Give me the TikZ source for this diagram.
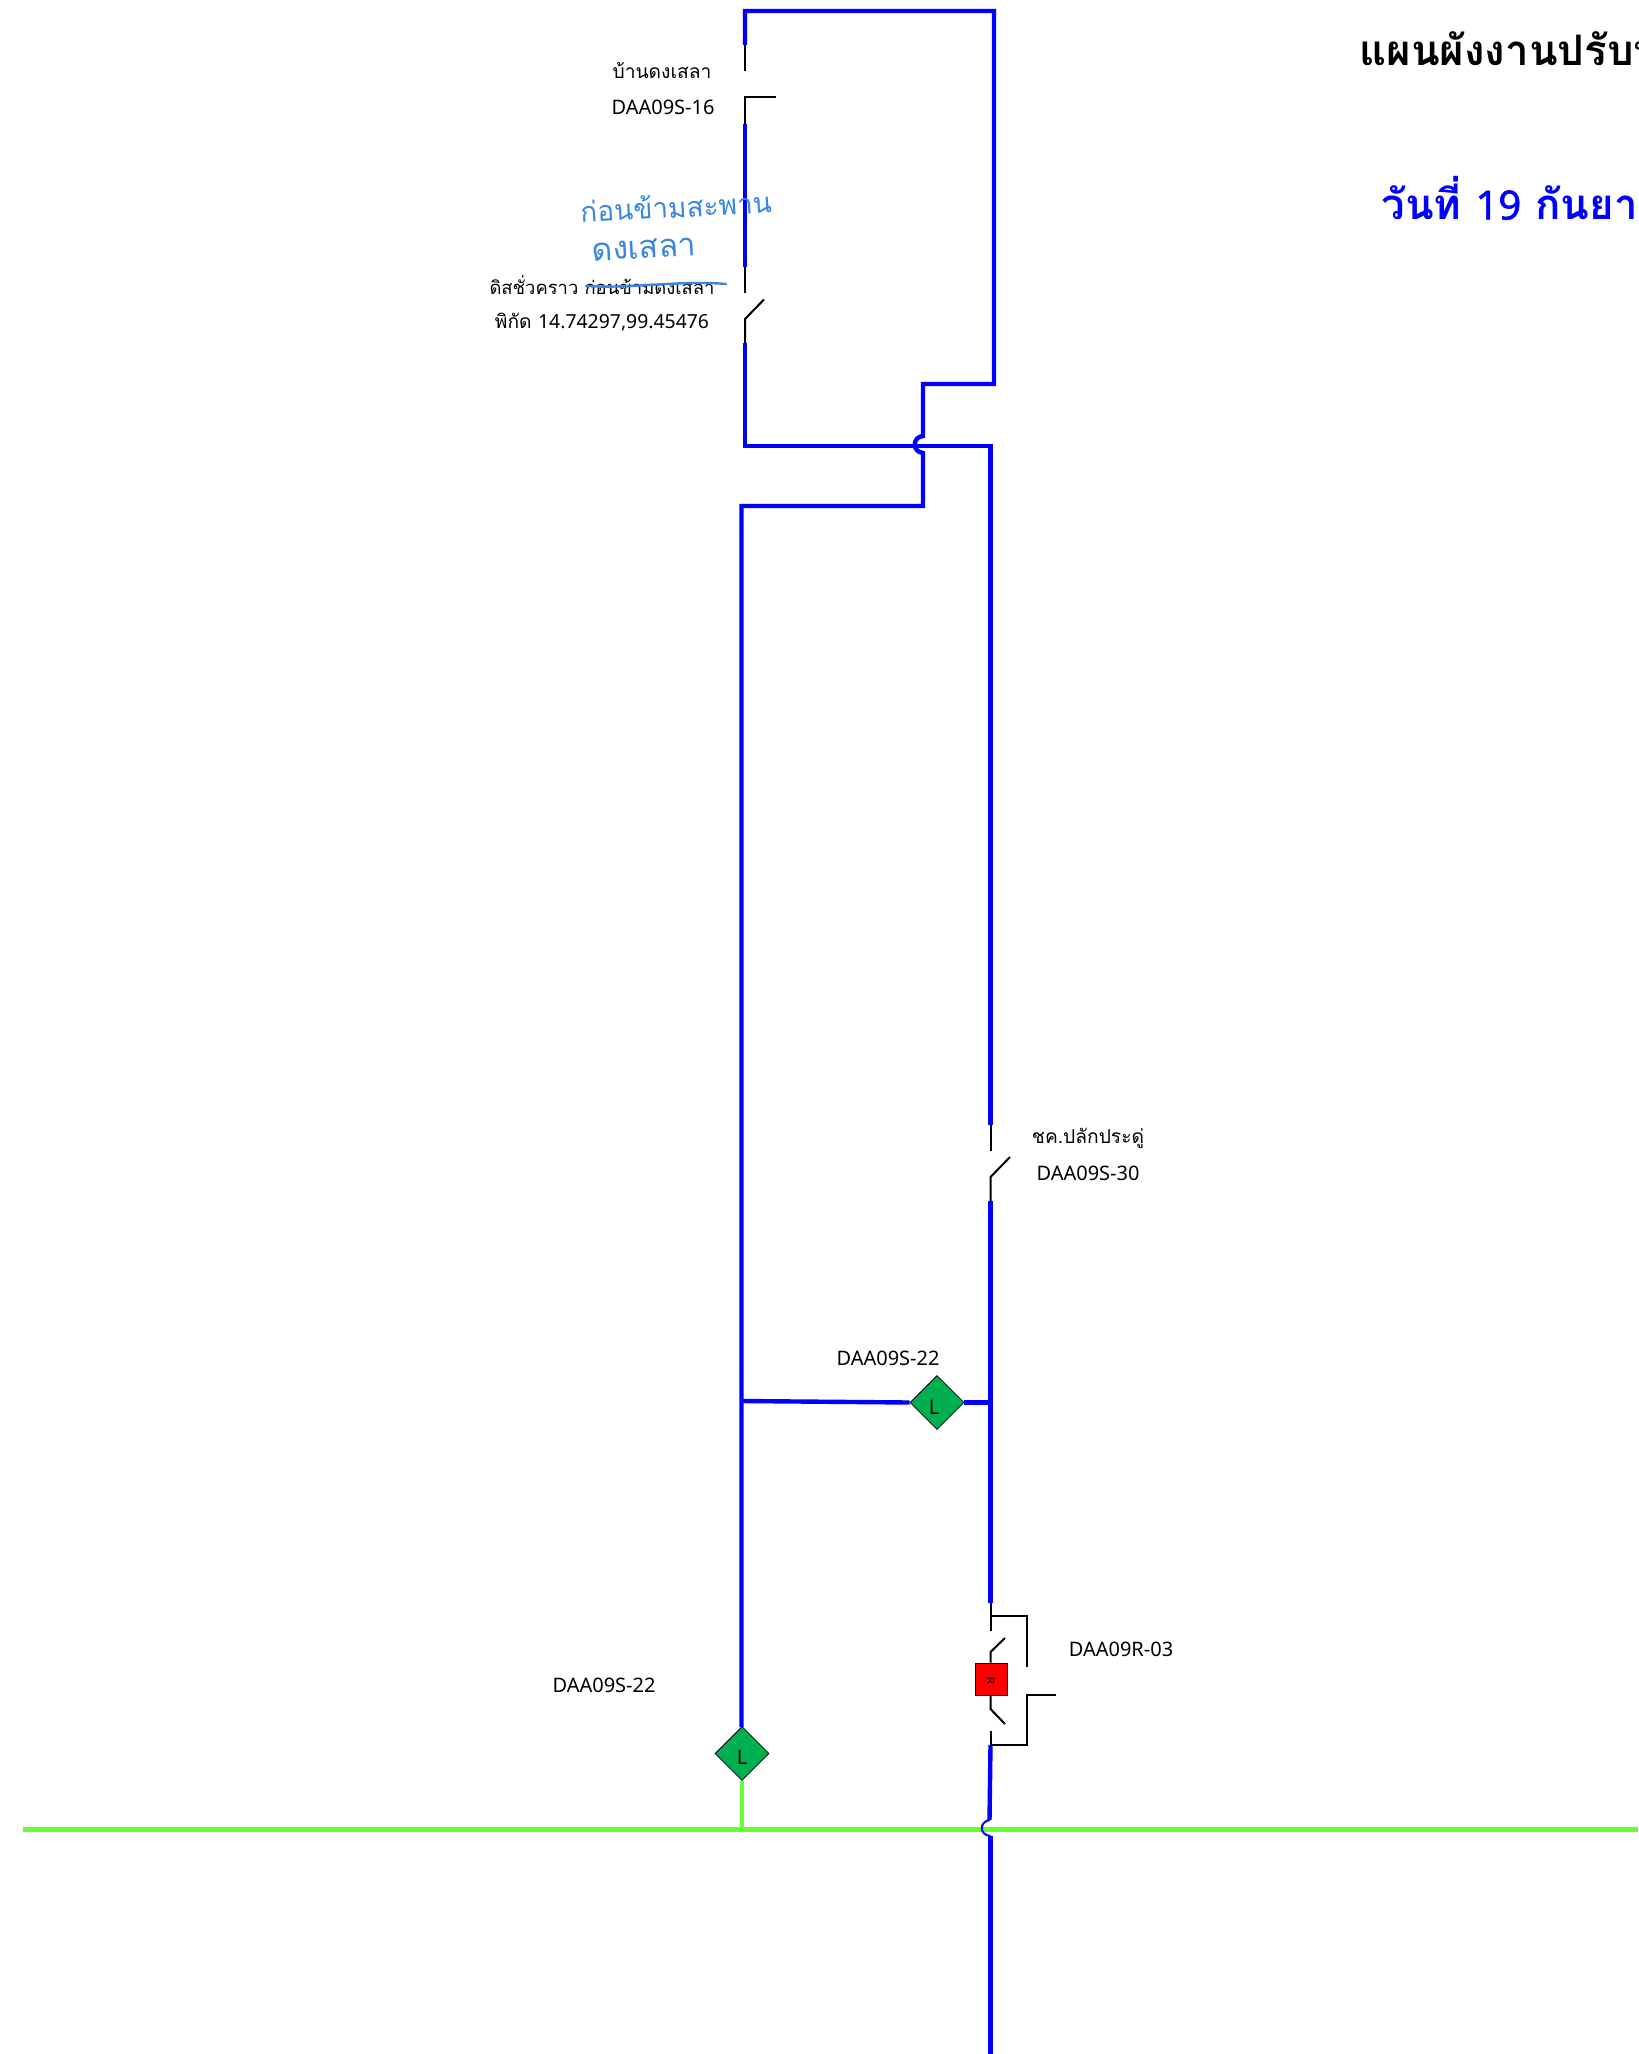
\documentclass[tikz,border=0pt]{standalone}
\usepackage{fontspec}
\usetikzlibrary{shapes.geometric}
\newfontfamily\thaifont[Script=Thai]{Loma}
\newfontfamily\latinfont{Noto Sans}
\newfontfamily\latinheavy[FakeBold=1.5]{Noto Sans}
\definecolor{wireblue}{RGB}{0,0,255}
\definecolor{wiregreen}{RGB}{102,255,51}
\definecolor{lampgreen}{RGB}{0,176,80}
\definecolor{inkblue}{RGB}{58,134,224}
\tikzset{
  bluewire/.style={draw=wireblue,line width=2.2pt,line join=miter},
  greenwire/.style={draw=wiregreen,line width=2.2pt},
  blackwire/.style={draw=black,line width=1pt},
  lamp/.style={diamond,draw=black,line width=0.4pt,fill=lampgreen,minimum width=27pt,minimum height=27pt,inner sep=0pt,aspect=1},
  recloser/.style={rectangle,draw=black,line width=0.4pt,fill=red,minimum width=16pt,minimum height=16pt,inner sep=0pt},
  lbl/.style={font=\latinfont\fontsize{10}{12}\selectfont,inner sep=0pt,text=black},
  lblth/.style={font=\thaifont\fontsize{9.6}{12}\selectfont,inner sep=0pt,text=black},
  hand/.style={font=\thaifont\fontsize{14}{16}\selectfont,inner sep=0pt,text=inkblue},
  titletext/.style={font=\thaifont\bfseries\fontsize{21}{24}\selectfont,inner sep=0pt,anchor=west}
}
\begin{document}
\begin{tikzpicture}[x=0.5pt,y=-0.5pt]
\useasboundingbox (0,0) rectangle (1638,2054);
\clip (0,0) rectangle (1638,2054);
% nodes
\node[lamp] (lampA) at (937,1402.5) {};
\node[lamp] (lampB) at (742,1753.5) {};
\node[recloser] (rc) at (991,1679) {};
\node[font=\thaifont\fontsize{5}{5}\selectfont,inner sep=0pt,rotate=-90] (rcT) at (991,1681) {R};
\node[font=\latinfont\fontsize{10}{12}\selectfont,inner sep=0pt] (lampAT) at (934,1407) {L};
\node[font=\latinfont\fontsize{10}{12}\selectfont,inner sep=0pt] (lampBT) at (742,1757) {L};
% coordinates: upper loop
\coordinate (a0) at (745,45);
\coordinate (a1) at (745,11);
\coordinate (a2) at (994,11);
\coordinate (a3) at (994,384);
\coordinate (a4) at (923,384);
\coordinate (a5) at (923,436);
\coordinate (a6) at (923,453);
\coordinate (a7) at (923,506);
\coordinate (a8) at (741.5,506);
\coordinate (a9) at (741.5,1727);
\coordinate (b0) at (745,124);
\coordinate (b1) at (745,267);
\coordinate (b2) at (745,343);
\coordinate (b3) at (745,446);
\coordinate (b4) at (990.5,446);
\coordinate (b5) at (990.5,1125);
\coordinate (c0) at (990.5,1201);
\coordinate (c1) at (990.5,1603);
\coordinate (c2) at (990.5,1745);
\coordinate (c3) at (989.5,1820);
\coordinate (c4) at (990.5,1836);
\coordinate (c5) at (990.5,2054);
\coordinate (d0) at (741.5,1401);
\coordinate (d1) at (990.5,1402.5);
% black switch points
\coordinate (s1) at (745,71);
\coordinate (s2) at (776,97.5);
\coordinate (s3) at (745,97.5);
\coordinate (s4) at (745,293);
\coordinate (s5) at (764,299.5);
\coordinate (s6) at (745,319);
\coordinate (s7) at (990.5,1151);
\coordinate (s8) at (1010,1157);
\coordinate (s9) at (990.5,1177);
\coordinate (r0) at (990.5,1631);
\coordinate (r1) at (990.5,1616);
\coordinate (r2) at (1026.5,1616);
\coordinate (r3) at (1026.5,1667);
\coordinate (r4) at (1005,1638);
\coordinate (r5) at (990.5,1652);
\coordinate (r6) at (990.5,1709);
\coordinate (r7) at (1005,1724);
\coordinate (r8) at (990.5,1731);
\coordinate (r9) at (1056,1695);
\coordinate (r10) at (1026.5,1695);
\coordinate (r11) at (1026.5,1745);
% green
\coordinate (g0) at (23,1829.5);
\coordinate (g1) at (1638,1829.5);
\coordinate (g2) at (742,1829.5);
% blue wires
\draw[bluewire] (a0) -- (a1) -- (a2) -- (a3) -- (a4) -- (a5)
  .. controls (912,437) and (912,452) .. (a6) -- (a7) -- (a8) -- (a9);
\draw[bluewire] (b0) -- (b1);
\draw[bluewire] (b2) -- (b3) -- (b4) -- (b5);
\draw[bluewire] (c0) -- (c1);
\draw[greenwire] (g0) -- (g1);
\draw[greenwire] (lampB.south) -- (g2);
\draw[bluewire] (c2) -- (c3);
\draw[draw=wireblue,line width=1pt] (c3) .. controls (979,1822) and (979,1835) .. (c4);
\draw[bluewire] (c4) -- (c5);
\draw[bluewire] (d0) -- (lampA.west);
\draw[bluewire] (lampA.east) -- (d1);
% black switch parts
\draw[blackwire] (a0) -- (s1);
\draw[blackwire] (s2) -- (s3) -- (b0);
\draw[blackwire] (b1) -- (s4);
\draw[blackwire] (s5) -- (s6) -- (b2);
\draw[blackwire] (b5) -- (s7);
\draw[blackwire] (s8) -- (s9) -- (c0);
\draw[blackwire] (c1) -- (r0);
\draw[blackwire] (r1) -- (r2) -- (r3);
\draw[blackwire] (r4) -- (r5) -- (rc.north -| r5);
\draw[blackwire] (rc.south -| r6) -- (r6) -- (r7);
\draw[blackwire] (r8) -- (c2);
\draw[blackwire] (r9) -- (r10) -- (r11) -- (c2);
% labels
\node[lblth] (t1) at (662,71) {บ้านดงเสลา};
\node[lbl] (t2) at (663,107) {DAA09S-16};
\node[lblth,font=\thaifont\fontsize{9.2}{12}\selectfont] (t3) at (602,285) {ดิสชั่วคราว ก่อนข้ามดงเสลา};
\node[lblth] (t4) at (602,322) {พิกัด {\latinfont\fontsize{9.7}{12}\selectfont 14.74297,99.45476}};
\node[lblth] (t5) at (1088,1138) {ชค.ปลักประดู่};
\node[lbl] (t6) at (1088,1173) {DAA09S-30};
\node[lbl] (t7) at (888,1358) {DAA09S-22};
\node[lbl] (t8) at (1121,1649) {DAA09R-03};
\node[lbl] (t9) at (604,1685) {DAA09S-22};
\node[titletext] (title) at (1359,49) {แผนผังงานปรับป};
\node[titletext,text=wireblue] (date) at (1381,198) {วันที่ {\latinheavy\fontsize{20}{24}\selectfont 19} กันยา};
% handwritten note
\node[hand,rotate=3] (h1) at (676,206) {ก่อนข้ามสะพาน};
\node[hand,rotate=3,font=\thaifont\fontsize{16}{18}\selectfont] (h2) at (644,249) {ดงเสลา};
\coordinate (st0) at (586,286);
\coordinate (st1) at (726,284);
\draw[draw=inkblue,line width=1.2pt,line cap=round] (st0) .. controls (630,289) and (680,280) .. (st1);
\end{tikzpicture}
\end{document}
